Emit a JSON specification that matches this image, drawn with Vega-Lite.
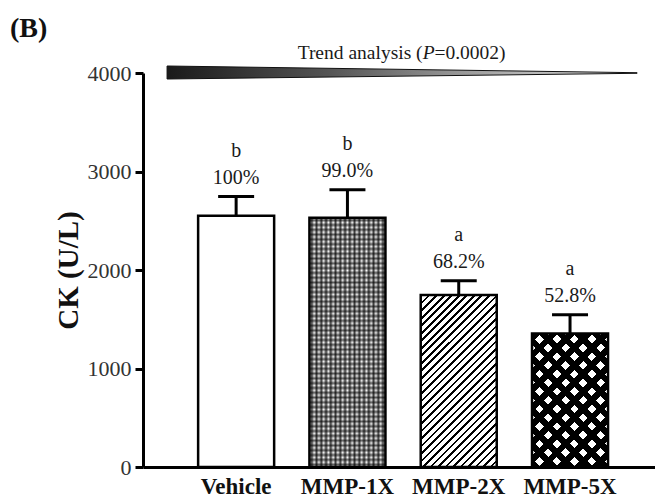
{
"$schema": "https://vega.github.io/schema/vega-lite/v6.json",
"width": 512, "height": 394,
"autosize": "none",
"padding": {"left": 143, "top": 73, "right": 0, "bottom": 32},
"background": "white",
"config": {
  "font": "Liberation Serif",
  "view": {"stroke": null},
  "axis": {"grid": false, "domainColor": "#000", "domainWidth": 3, "tickColor": "#000", "tickWidth": 3, "labelFont": "Liberation Serif", "titleFont": "Liberation Serif"},
  "axisY": {"tickSize": 8, "labelFontSize": 22, "labelColor": "#333", "labelPadding": 4, "titleFontSize": 29, "titleFontWeight": "bold", "titleColor": "#111", "titlePadding": 4},
  "axisX": {"ticks": false, "labelFontSize": 23, "labelFontWeight": "bold", "labelColor": "#111", "labelPadding": 8, "labelAngle": 0}
},
"title": {"text": "(B)", "anchor": "start", "frame": "group", "fontSize": 28, "fontWeight": "bold", "font": "Liberation Serif", "color": "#111", "dx": -133, "dy": 28, "offset": 0, "baseline": "bottom"},
"datasets": {
  "bars": [
    {"group": "Vehicle", "mean": 2550, "upper": 2745, "letter": "b", "pct": "100%"},
    {"group": "MMP-1X", "mean": 2530, "upper": 2815, "letter": "b", "pct": "99.0%"},
    {"group": "MMP-2X", "mean": 1745, "upper": 1890, "letter": "a", "pct": "68.2%"},
    {"group": "MMP-5X", "mean": 1355, "upper": 1545, "letter": "a", "pct": "52.8%"}
  ],
  "wedge": [
    {"pos": 4.7, "lo": 3939, "hi": 4071},
    {"pos": 96.5, "lo": 3997, "hi": 4003}
  ],
  "trendtext": [
    {"pos": 54.61, "ty": 4200, "txt": "Trend analysis (", "part": "a"},
    {"pos": 55.78, "ty": 4200, "txt": "P", "part": "p"},
    {"pos": 56.93, "ty": 4200, "txt": "=0.0002)", "part": "c"}
  ]
},
"layer": [
  {
    "data": {"name": "bars"},
    "encoding": {
      "x": {"field": "group", "type": "nominal", "sort": null, "title": null,
            "scale": {"domain": ["Vehicle", "MMP-1X", "MMP-2X", "MMP-5X"], "paddingInner": 0.317, "paddingOuter": 0.4586, "align": 0.54}},
      "y": {"field": "mean", "type": "quantitative", "title": "CK (U/L)", "scale": {"domain": [0, 4000]}, "axis": {"values": [0, 1000, 2000, 3000, 4000], "format": "d"}}
    },
    "layer": [
      {"mark": {"type": "bar", "fill": "white"}},
      {"transform": [{"filter": "datum.group === 'MMP-1X'"}],
       "mark": {"type": "bar", "fill": {"gradient": "linear", "x1": 0, "y1": 0, "x2": 1, "y2": 0, "stops": [
        {"offset":0,"color":"#fff"},{"offset":0.03125,"color":"#444"},{"offset":0.0625,"color":"#fff"},{"offset":0.09375,"color":"#444"},{"offset":0.125,"color":"#fff"},{"offset":0.15625,"color":"#444"},{"offset":0.1875,"color":"#fff"},{"offset":0.21875,"color":"#444"},{"offset":0.25,"color":"#fff"},{"offset":0.28125,"color":"#444"},{"offset":0.3125,"color":"#fff"},{"offset":0.34375,"color":"#444"},{"offset":0.375,"color":"#fff"},{"offset":0.40625,"color":"#444"},{"offset":0.4375,"color":"#fff"},{"offset":0.46875,"color":"#444"},{"offset":0.5,"color":"#fff"},{"offset":0.53125,"color":"#444"},{"offset":0.5625,"color":"#fff"},{"offset":0.59375,"color":"#444"},{"offset":0.625,"color":"#fff"},{"offset":0.65625,"color":"#444"},{"offset":0.6875,"color":"#fff"},{"offset":0.71875,"color":"#444"},{"offset":0.75,"color":"#fff"},{"offset":0.78125,"color":"#444"},{"offset":0.8125,"color":"#fff"},{"offset":0.84375,"color":"#444"},{"offset":0.875,"color":"#fff"},{"offset":0.90625,"color":"#444"},{"offset":0.9375,"color":"#fff"},{"offset":0.96875,"color":"#444"},{"offset":1,"color":"#fff"}
       ]}}},
      {"transform": [{"filter": "datum.group === 'MMP-1X'"}],
       "mark": {"type": "bar", "fill": {"gradient": "linear", "x1": 0, "y1": 0, "x2": 0, "y2": 1, "stops": [
        {"offset":0,"color":"rgba(0,0,0,0)"},{"offset":0.0096,"color":"rgba(0,0,0,0.6)"},{"offset":0.0192,"color":"rgba(0,0,0,0)"},{"offset":0.0288,"color":"rgba(0,0,0,0.6)"},{"offset":0.0385,"color":"rgba(0,0,0,0)"},{"offset":0.0481,"color":"rgba(0,0,0,0.6)"},{"offset":0.0577,"color":"rgba(0,0,0,0)"},{"offset":0.0673,"color":"rgba(0,0,0,0.6)"},{"offset":0.0769,"color":"rgba(0,0,0,0)"},{"offset":0.0865,"color":"rgba(0,0,0,0.6)"},
        {"offset":0.0962,"color":"rgba(0,0,0,0)"},{"offset":0.1058,"color":"rgba(0,0,0,0.6)"},{"offset":0.1154,"color":"rgba(0,0,0,0)"},{"offset":0.125,"color":"rgba(0,0,0,0.6)"},{"offset":0.1346,"color":"rgba(0,0,0,0)"},{"offset":0.1442,"color":"rgba(0,0,0,0.6)"},{"offset":0.1538,"color":"rgba(0,0,0,0)"},{"offset":0.1635,"color":"rgba(0,0,0,0.6)"},{"offset":0.1731,"color":"rgba(0,0,0,0)"},{"offset":0.1827,"color":"rgba(0,0,0,0.6)"},
        {"offset":0.1923,"color":"rgba(0,0,0,0)"},{"offset":0.2019,"color":"rgba(0,0,0,0.6)"},{"offset":0.2115,"color":"rgba(0,0,0,0)"},{"offset":0.2212,"color":"rgba(0,0,0,0.6)"},{"offset":0.2308,"color":"rgba(0,0,0,0)"},{"offset":0.2404,"color":"rgba(0,0,0,0.6)"},{"offset":0.25,"color":"rgba(0,0,0,0)"},{"offset":0.2596,"color":"rgba(0,0,0,0.6)"},{"offset":0.2692,"color":"rgba(0,0,0,0)"},{"offset":0.2788,"color":"rgba(0,0,0,0.6)"},
        {"offset":0.2885,"color":"rgba(0,0,0,0)"},{"offset":0.2981,"color":"rgba(0,0,0,0.6)"},{"offset":0.3077,"color":"rgba(0,0,0,0)"},{"offset":0.3173,"color":"rgba(0,0,0,0.6)"},{"offset":0.3269,"color":"rgba(0,0,0,0)"},{"offset":0.3365,"color":"rgba(0,0,0,0.6)"},{"offset":0.3462,"color":"rgba(0,0,0,0)"},{"offset":0.3558,"color":"rgba(0,0,0,0.6)"},{"offset":0.3654,"color":"rgba(0,0,0,0)"},{"offset":0.375,"color":"rgba(0,0,0,0.6)"},
        {"offset":0.3846,"color":"rgba(0,0,0,0)"},{"offset":0.3942,"color":"rgba(0,0,0,0.6)"},{"offset":0.4038,"color":"rgba(0,0,0,0)"},{"offset":0.4135,"color":"rgba(0,0,0,0.6)"},{"offset":0.4231,"color":"rgba(0,0,0,0)"},{"offset":0.4327,"color":"rgba(0,0,0,0.6)"},{"offset":0.4423,"color":"rgba(0,0,0,0)"},{"offset":0.4519,"color":"rgba(0,0,0,0.6)"},{"offset":0.4615,"color":"rgba(0,0,0,0)"},{"offset":0.4712,"color":"rgba(0,0,0,0.6)"},
        {"offset":0.4808,"color":"rgba(0,0,0,0)"},{"offset":0.4904,"color":"rgba(0,0,0,0.6)"},{"offset":0.5,"color":"rgba(0,0,0,0)"},{"offset":0.5096,"color":"rgba(0,0,0,0.6)"},{"offset":0.5192,"color":"rgba(0,0,0,0)"},{"offset":0.5288,"color":"rgba(0,0,0,0.6)"},{"offset":0.5385,"color":"rgba(0,0,0,0)"},{"offset":0.5481,"color":"rgba(0,0,0,0.6)"},{"offset":0.5577,"color":"rgba(0,0,0,0)"},{"offset":0.5673,"color":"rgba(0,0,0,0.6)"},
        {"offset":0.5769,"color":"rgba(0,0,0,0)"},{"offset":0.5865,"color":"rgba(0,0,0,0.6)"},{"offset":0.5962,"color":"rgba(0,0,0,0)"},{"offset":0.6058,"color":"rgba(0,0,0,0.6)"},{"offset":0.6154,"color":"rgba(0,0,0,0)"},{"offset":0.625,"color":"rgba(0,0,0,0.6)"},{"offset":0.6346,"color":"rgba(0,0,0,0)"},{"offset":0.6442,"color":"rgba(0,0,0,0.6)"},{"offset":0.6538,"color":"rgba(0,0,0,0)"},{"offset":0.6635,"color":"rgba(0,0,0,0.6)"},
        {"offset":0.6731,"color":"rgba(0,0,0,0)"},{"offset":0.6827,"color":"rgba(0,0,0,0.6)"},{"offset":0.6923,"color":"rgba(0,0,0,0)"},{"offset":0.7019,"color":"rgba(0,0,0,0.6)"},{"offset":0.7115,"color":"rgba(0,0,0,0)"},{"offset":0.7212,"color":"rgba(0,0,0,0.6)"},{"offset":0.7308,"color":"rgba(0,0,0,0)"},{"offset":0.7404,"color":"rgba(0,0,0,0.6)"},{"offset":0.75,"color":"rgba(0,0,0,0)"},{"offset":0.7596,"color":"rgba(0,0,0,0.6)"},
        {"offset":0.7692,"color":"rgba(0,0,0,0)"},{"offset":0.7788,"color":"rgba(0,0,0,0.6)"},{"offset":0.7885,"color":"rgba(0,0,0,0)"},{"offset":0.7981,"color":"rgba(0,0,0,0.6)"},{"offset":0.8077,"color":"rgba(0,0,0,0)"},{"offset":0.8173,"color":"rgba(0,0,0,0.6)"},{"offset":0.8269,"color":"rgba(0,0,0,0)"},{"offset":0.8365,"color":"rgba(0,0,0,0.6)"},{"offset":0.8462,"color":"rgba(0,0,0,0)"},{"offset":0.8558,"color":"rgba(0,0,0,0.6)"},
        {"offset":0.8654,"color":"rgba(0,0,0,0)"},{"offset":0.875,"color":"rgba(0,0,0,0.6)"},{"offset":0.8846,"color":"rgba(0,0,0,0)"},{"offset":0.8942,"color":"rgba(0,0,0,0.6)"},{"offset":0.9038,"color":"rgba(0,0,0,0)"},{"offset":0.9135,"color":"rgba(0,0,0,0.6)"},{"offset":0.9231,"color":"rgba(0,0,0,0)"},{"offset":0.9327,"color":"rgba(0,0,0,0.6)"},{"offset":0.9423,"color":"rgba(0,0,0,0)"},{"offset":0.9519,"color":"rgba(0,0,0,0.6)"},
        {"offset":0.9615,"color":"rgba(0,0,0,0)"},{"offset":0.9712,"color":"rgba(0,0,0,0.6)"},{"offset":0.9808,"color":"rgba(0,0,0,0)"},{"offset":0.9904,"color":"rgba(0,0,0,0.6)"},{"offset":1,"color":"rgba(0,0,0,0)"}
       ]}}},
      {"transform": [{"filter": "datum.group === 'MMP-2X'"}],
       "mark": {"type": "bar", "fill": {"gradient": "linear", "x1": 0, "y1": 0, "x2": 0.5336, "y2": 1.207, "stops": [
        {"offset":0,"color":"#000"},{"offset":0.0106,"color":"#000"},{"offset":0.0106,"color":"#fff"},{"offset":0.0303,"color":"#fff"},
        {"offset":0.0303,"color":"#000"},{"offset":0.0409,"color":"#000"},{"offset":0.0409,"color":"#fff"},{"offset":0.0606,"color":"#fff"},
        {"offset":0.0606,"color":"#000"},{"offset":0.0712,"color":"#000"},{"offset":0.0712,"color":"#fff"},{"offset":0.0909,"color":"#fff"},
        {"offset":0.0909,"color":"#000"},{"offset":0.1015,"color":"#000"},{"offset":0.1015,"color":"#fff"},{"offset":0.1212,"color":"#fff"},
        {"offset":0.1212,"color":"#000"},{"offset":0.1318,"color":"#000"},{"offset":0.1318,"color":"#fff"},{"offset":0.1515,"color":"#fff"},
        {"offset":0.1515,"color":"#000"},{"offset":0.1621,"color":"#000"},{"offset":0.1621,"color":"#fff"},{"offset":0.1818,"color":"#fff"},
        {"offset":0.1818,"color":"#000"},{"offset":0.1924,"color":"#000"},{"offset":0.1924,"color":"#fff"},{"offset":0.2121,"color":"#fff"},
        {"offset":0.2121,"color":"#000"},{"offset":0.2227,"color":"#000"},{"offset":0.2227,"color":"#fff"},{"offset":0.2424,"color":"#fff"},
        {"offset":0.2424,"color":"#000"},{"offset":0.2530,"color":"#000"},{"offset":0.2530,"color":"#fff"},{"offset":0.2727,"color":"#fff"},
        {"offset":0.2727,"color":"#000"},{"offset":0.2833,"color":"#000"},{"offset":0.2833,"color":"#fff"},{"offset":0.3030,"color":"#fff"},
        {"offset":0.3030,"color":"#000"},{"offset":0.3136,"color":"#000"},{"offset":0.3136,"color":"#fff"},{"offset":0.3333,"color":"#fff"},
        {"offset":0.3333,"color":"#000"},{"offset":0.3439,"color":"#000"},{"offset":0.3439,"color":"#fff"},{"offset":0.3636,"color":"#fff"},
        {"offset":0.3636,"color":"#000"},{"offset":0.3742,"color":"#000"},{"offset":0.3742,"color":"#fff"},{"offset":0.3939,"color":"#fff"},
        {"offset":0.3939,"color":"#000"},{"offset":0.4045,"color":"#000"},{"offset":0.4045,"color":"#fff"},{"offset":0.4242,"color":"#fff"},
        {"offset":0.4242,"color":"#000"},{"offset":0.4348,"color":"#000"},{"offset":0.4348,"color":"#fff"},{"offset":0.4545,"color":"#fff"},
        {"offset":0.4545,"color":"#000"},{"offset":0.4651,"color":"#000"},{"offset":0.4651,"color":"#fff"},{"offset":0.4848,"color":"#fff"},
        {"offset":0.4848,"color":"#000"},{"offset":0.4954,"color":"#000"},{"offset":0.4954,"color":"#fff"},{"offset":0.5152,"color":"#fff"},
        {"offset":0.5152,"color":"#000"},{"offset":0.5258,"color":"#000"},{"offset":0.5258,"color":"#fff"},{"offset":0.5455,"color":"#fff"},
        {"offset":0.5455,"color":"#000"},{"offset":0.5561,"color":"#000"},{"offset":0.5561,"color":"#fff"},{"offset":0.5758,"color":"#fff"},
        {"offset":0.5758,"color":"#000"},{"offset":0.5864,"color":"#000"},{"offset":0.5864,"color":"#fff"},{"offset":0.6061,"color":"#fff"},
        {"offset":0.6061,"color":"#000"},{"offset":0.6167,"color":"#000"},{"offset":0.6167,"color":"#fff"},{"offset":0.6364,"color":"#fff"},
        {"offset":0.6364,"color":"#000"},{"offset":0.6470,"color":"#000"},{"offset":0.6470,"color":"#fff"},{"offset":0.6667,"color":"#fff"},
        {"offset":0.6667,"color":"#000"},{"offset":0.6773,"color":"#000"},{"offset":0.6773,"color":"#fff"},{"offset":0.6970,"color":"#fff"},
        {"offset":0.6970,"color":"#000"},{"offset":0.7076,"color":"#000"},{"offset":0.7076,"color":"#fff"},{"offset":0.7273,"color":"#fff"},
        {"offset":0.7273,"color":"#000"},{"offset":0.7379,"color":"#000"},{"offset":0.7379,"color":"#fff"},{"offset":0.7576,"color":"#fff"},
        {"offset":0.7576,"color":"#000"},{"offset":0.7682,"color":"#000"},{"offset":0.7682,"color":"#fff"},{"offset":0.7879,"color":"#fff"},
        {"offset":0.7879,"color":"#000"},{"offset":0.7985,"color":"#000"},{"offset":0.7985,"color":"#fff"},{"offset":0.8182,"color":"#fff"},
        {"offset":0.8182,"color":"#000"},{"offset":0.8288,"color":"#000"},{"offset":0.8288,"color":"#fff"},{"offset":0.8485,"color":"#fff"},
        {"offset":0.8485,"color":"#000"},{"offset":0.8591,"color":"#000"},{"offset":0.8591,"color":"#fff"},{"offset":0.8788,"color":"#fff"},
        {"offset":0.8788,"color":"#000"},{"offset":0.8894,"color":"#000"},{"offset":0.8894,"color":"#fff"},{"offset":0.9091,"color":"#fff"},
        {"offset":0.9091,"color":"#000"},{"offset":0.9197,"color":"#000"},{"offset":0.9197,"color":"#fff"},{"offset":0.9394,"color":"#fff"},
        {"offset":0.9394,"color":"#000"},{"offset":0.9500,"color":"#000"},{"offset":0.9500,"color":"#fff"},{"offset":0.9697,"color":"#fff"},
        {"offset":0.9697,"color":"#000"},{"offset":0.9803,"color":"#000"},{"offset":0.9803,"color":"#fff"},{"offset":1,"color":"#fff"}
       ]}}},
      {"transform": [{"filter": "datum.group === 'MMP-5X'"}],
       "mark": {"type": "bar", "fill": {"gradient": "linear", "x1": 0, "y1": 0, "x2": 0.6747, "y2": 1.1852, "stops": [
        {"offset":0,"color":"#000"},{"offset":0.0417,"color":"#000"},{"offset":0.0417,"color":"#fff"},{"offset":0.0833,"color":"#fff"},
        {"offset":0.0833,"color":"#000"},{"offset":0.125,"color":"#000"},{"offset":0.125,"color":"#fff"},{"offset":0.1667,"color":"#fff"},
        {"offset":0.1667,"color":"#000"},{"offset":0.2083,"color":"#000"},{"offset":0.2083,"color":"#fff"},{"offset":0.25,"color":"#fff"},
        {"offset":0.25,"color":"#000"},{"offset":0.2917,"color":"#000"},{"offset":0.2917,"color":"#fff"},{"offset":0.3333,"color":"#fff"},
        {"offset":0.3333,"color":"#000"},{"offset":0.375,"color":"#000"},{"offset":0.375,"color":"#fff"},{"offset":0.4167,"color":"#fff"},
        {"offset":0.4167,"color":"#000"},{"offset":0.4583,"color":"#000"},{"offset":0.4583,"color":"#fff"},{"offset":0.5,"color":"#fff"},
        {"offset":0.5,"color":"#000"},{"offset":0.5417,"color":"#000"},{"offset":0.5417,"color":"#fff"},{"offset":0.5833,"color":"#fff"},
        {"offset":0.5833,"color":"#000"},{"offset":0.625,"color":"#000"},{"offset":0.625,"color":"#fff"},{"offset":0.6667,"color":"#fff"},
        {"offset":0.6667,"color":"#000"},{"offset":0.7083,"color":"#000"},{"offset":0.7083,"color":"#fff"},{"offset":0.75,"color":"#fff"},
        {"offset":0.75,"color":"#000"},{"offset":0.7917,"color":"#000"},{"offset":0.7917,"color":"#fff"},{"offset":0.8333,"color":"#fff"},
        {"offset":0.8333,"color":"#000"},{"offset":0.875,"color":"#000"},{"offset":0.875,"color":"#fff"},{"offset":0.9167,"color":"#fff"},
        {"offset":0.9167,"color":"#000"},{"offset":0.9583,"color":"#000"},{"offset":0.9583,"color":"#fff"},{"offset":1,"color":"#fff"}
       ]}}},
      {"transform": [{"filter": "datum.group === 'MMP-5X'"}],
       "mark": {"type": "bar", "fill": {"gradient": "linear", "x1": 0, "y1": 1, "x2": 0.6747, "y2": -0.1852, "stops": [
        {"offset":0,"color":"#000"},{"offset":0.0417,"color":"#000"},{"offset":0.0417,"color":"rgba(0,0,0,0)"},{"offset":0.0833,"color":"rgba(0,0,0,0)"},
        {"offset":0.0833,"color":"#000"},{"offset":0.125,"color":"#000"},{"offset":0.125,"color":"rgba(0,0,0,0)"},{"offset":0.1667,"color":"rgba(0,0,0,0)"},
        {"offset":0.1667,"color":"#000"},{"offset":0.2083,"color":"#000"},{"offset":0.2083,"color":"rgba(0,0,0,0)"},{"offset":0.25,"color":"rgba(0,0,0,0)"},
        {"offset":0.25,"color":"#000"},{"offset":0.2917,"color":"#000"},{"offset":0.2917,"color":"rgba(0,0,0,0)"},{"offset":0.3333,"color":"rgba(0,0,0,0)"},
        {"offset":0.3333,"color":"#000"},{"offset":0.375,"color":"#000"},{"offset":0.375,"color":"rgba(0,0,0,0)"},{"offset":0.4167,"color":"rgba(0,0,0,0)"},
        {"offset":0.4167,"color":"#000"},{"offset":0.4583,"color":"#000"},{"offset":0.4583,"color":"rgba(0,0,0,0)"},{"offset":0.5,"color":"rgba(0,0,0,0)"},
        {"offset":0.5,"color":"#000"},{"offset":0.5417,"color":"#000"},{"offset":0.5417,"color":"rgba(0,0,0,0)"},{"offset":0.5833,"color":"rgba(0,0,0,0)"},
        {"offset":0.5833,"color":"#000"},{"offset":0.625,"color":"#000"},{"offset":0.625,"color":"rgba(0,0,0,0)"},{"offset":0.6667,"color":"rgba(0,0,0,0)"},
        {"offset":0.6667,"color":"#000"},{"offset":0.7083,"color":"#000"},{"offset":0.7083,"color":"rgba(0,0,0,0)"},{"offset":0.75,"color":"rgba(0,0,0,0)"},
        {"offset":0.75,"color":"#000"},{"offset":0.7917,"color":"#000"},{"offset":0.7917,"color":"rgba(0,0,0,0)"},{"offset":0.8333,"color":"rgba(0,0,0,0)"},
        {"offset":0.8333,"color":"#000"},{"offset":0.875,"color":"#000"},{"offset":0.875,"color":"rgba(0,0,0,0)"},{"offset":0.9167,"color":"rgba(0,0,0,0)"},
        {"offset":0.9167,"color":"#000"},{"offset":0.9583,"color":"#000"},{"offset":0.9583,"color":"rgba(0,0,0,0)"},{"offset":1,"color":"rgba(0,0,0,0)"}
       ]}}},
      {"mark": {"type": "bar", "fillOpacity": 0, "stroke": "#000", "strokeWidth": 2.5}},
      {"mark": {"type": "rule", "color": "#000", "strokeWidth": 3},
       "encoding": {"y": {"field": "mean", "type": "quantitative", "title": "CK (U/L)", "scale": {"domain": [0, 4000]}}, "y2": {"field": "upper"}}},
      {"mark": {"type": "tick", "orient": "horizontal", "size": 36, "thickness": 3, "color": "#000", "opacity": 1},
       "encoding": {"y": {"field": "upper", "type": "quantitative", "title": "CK (U/L)", "scale": {"domain": [0, 4000]}}}},
      {"mark": {"type": "text", "dy": -19, "fontSize": 20, "color": "#1a1a1a", "baseline": "middle"},
       "encoding": {"y": {"field": "upper", "type": "quantitative", "title": "CK (U/L)", "scale": {"domain": [0, 4000]}}, "text": {"field": "pct"}}},
      {"mark": {"type": "text", "dy": -46, "fontSize": 20, "color": "#1a1a1a", "baseline": "middle"},
       "encoding": {"y": {"field": "upper", "type": "quantitative", "title": "CK (U/L)", "scale": {"domain": [0, 4000]}}, "text": {"field": "letter"}}}
    ]
  },
  {
    "layer": [
      {"data": {"name": "wedge"},
       "mark": {"type": "area", "stroke": "#111", "strokeWidth": 1, "fill": {"gradient": "linear", "x1": 0, "y1": 0, "x2": 1, "y2": 0, "stops": [
         {"offset": 0, "color": "#1a1a1a"}, {"offset": 0.35, "color": "#555"}, {"offset": 0.7, "color": "#aaa"}, {"offset": 1, "color": "#ddd"}]}},
       "encoding": {
         "x": {"field": "pos", "type": "quantitative", "scale": {"domain": [0, 100]}, "axis": null},
         "y": {"field": "lo", "type": "quantitative", "title": "CK (U/L)", "scale": {"domain": [0, 4000]}},
         "y2": {"field": "hi"}
       }},
      {"data": {"name": "trendtext"},
       "transform": [{"filter": "datum.part === 'a'"}],
       "mark": {"type": "text", "align": "right", "baseline": "middle", "fontSize": 19.5, "color": "#1a1a1a"},
       "encoding": {
         "x": {"field": "pos", "type": "quantitative", "scale": {"domain": [0, 100]}, "axis": null},
         "y": {"field": "ty", "type": "quantitative", "title": "CK (U/L)", "scale": {"domain": [0, 4000]}},
         "text": {"field": "txt"}
       }},
      {"data": {"name": "trendtext"},
       "transform": [{"filter": "datum.part === 'p'"}],
       "mark": {"type": "text", "align": "center", "baseline": "middle", "fontSize": 19.5, "fontStyle": "italic", "color": "#1a1a1a"},
       "encoding": {
         "x": {"field": "pos", "type": "quantitative", "scale": {"domain": [0, 100]}, "axis": null},
         "y": {"field": "ty", "type": "quantitative", "title": "CK (U/L)", "scale": {"domain": [0, 4000]}},
         "text": {"field": "txt"}
       }},
      {"data": {"name": "trendtext"},
       "transform": [{"filter": "datum.part === 'c'"}],
       "mark": {"type": "text", "align": "left", "baseline": "middle", "fontSize": 19.5, "color": "#1a1a1a"},
       "encoding": {
         "x": {"field": "pos", "type": "quantitative", "scale": {"domain": [0, 100]}, "axis": null},
         "y": {"field": "ty", "type": "quantitative", "title": "CK (U/L)", "scale": {"domain": [0, 4000]}},
         "text": {"field": "txt"}
       }}
    ]
  }
],
"resolve": {"scale": {"x": "independent"}}
}
